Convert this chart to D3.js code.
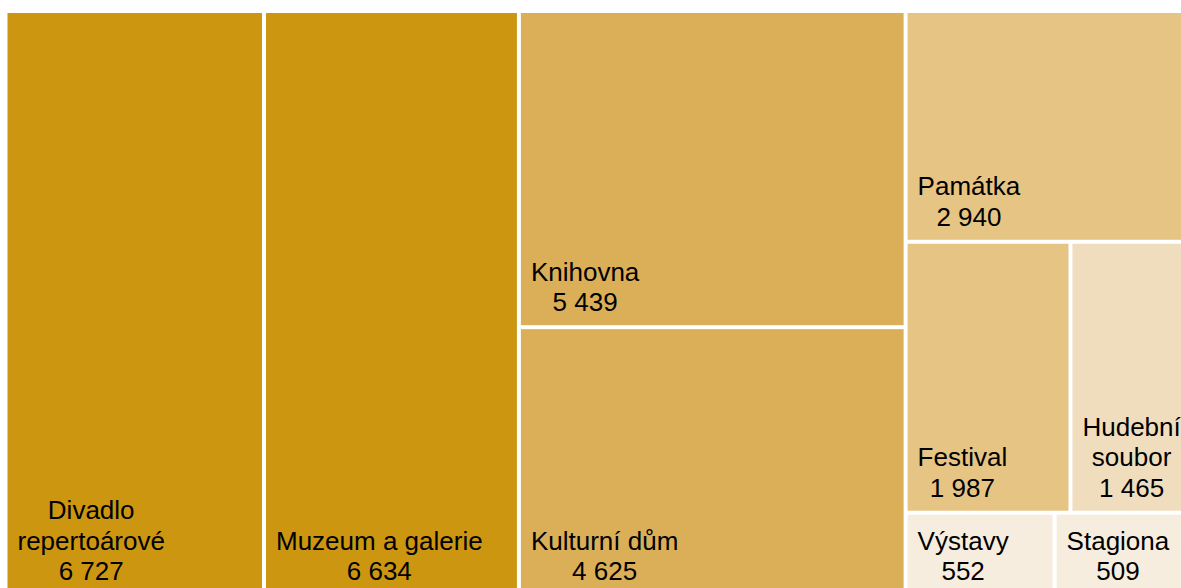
<!DOCTYPE html>
<html>
<head>
<meta charset="utf-8">
<script src="https://cdn.jsdelivr.net/npm/d3@7"></script>
<style>
  html, body { margin: 0; padding: 0; background: #fff; overflow: hidden; }
  svg { display: block; font-family: Arial, "Liberation Sans", sans-serif; }
</style>
</head>
<body>
<div id="chart"></div>
<script>
// data
var categories = ["Divadlo repertoárové", "Muzeum a galerie", "Knihovna", "Kulturní dům",
                  "Památka", "Festival", "Hudební soubor", "Výstavy", "Stagiona"];
var values = [6727, 6634, 5439, 4625, 2940, 1987, 1465, 552, 509];
// how the tiles are nested (indexes into categories)
var nesting = [0, 1, [2, 3], [4, [5, 6], [7, 8]]];
// colour bands by value
var colorSteps = [1000, 1900, 4000, 6000];
var colorRange = ["#f7eddf", "#f0ddbd", "#e6c484", "#dbaf57", "#cc9610"];

(function(){
    var width = 1181, height = 588;
    var x0 = 7.5, y0 = 13, x1 = 1190, y1 = 594;
    var fontSize = 26, lineGap = 30.5;

    var color = d3.scaleThreshold().domain(colorSteps).range(colorRange);
    var fmt = d3.formatLocale({decimal: ",", thousands: "\u00a0", grouping: [3], currency: ["", " Kč"]}).format(",d");

    function build(node){
        if (Array.isArray(node)){
            return {children: node.map(build)};
        }
        return {name: categories[node], value: values[node]};
    }

    var root = d3.hierarchy(build(nesting))
        .sum(function(d){ return d.value || 0; });

    d3.treemap()
        .tile(d3.treemapSliceDice)
        .size([x1 - x0, y1 - y0])
        .paddingInner(4)
        .round(false)(root);

    var svg = d3.select("#chart").append("svg")
        .attr("width", width)
        .attr("height", height);

    var plot = svg.append("g")
        .attr("transform", "translate(" + x0 + "," + y0 + ")");

    var leaves = plot.selectAll("g.tile")
        .data(root.leaves())
        .enter().append("g")
        .attr("class", "tile");

    leaves.append("rect")
        .attr("x", function(d){ return d.x0; })
        .attr("y", function(d){ return d.y0; })
        .attr("width", function(d){ return d.x1 - d.x0; })
        .attr("height", function(d){ return d.y1 - d.y0; })
        .attr("fill", function(d){ return color(d.data.value); });

    // labels: name (wrapped) + value, anchored bottom-left, lines centred on each other
    leaves.each(function(d){
        var g = d3.select(this);
        var maxW = d.x1 - d.x0 - 20;
        var words = d.data.name.split(" ");
        var lines = [], cur = "";
        var probe = g.append("text").attr("font-size", fontSize);
        words.forEach(function(w){
            var test = cur ? cur + " " + w : w;
            probe.text(test);
            if (cur && probe.node().getComputedTextLength() > maxW){
                lines.push(cur);
                cur = w;
            } else {
                cur = test;
            }
        });
        lines.push(cur);
        lines.push(fmt(d.data.value));
        var blockW = 0;
        lines.forEach(function(l){
            probe.text(l);
            blockW = Math.max(blockW, probe.node().getComputedTextLength());
        });
        probe.remove();

        var cx = d.x0 + 10 + blockW / 2;
        var lastY = d.y1 - 14;
        var text = g.append("text")
            .attr("font-size", fontSize)
            .attr("fill", "#000")
            .attr("text-anchor", "middle");
        lines.forEach(function(l, i){
            text.append("tspan")
                .attr("x", cx)
                .attr("y", lastY - (lines.length - 1 - i) * lineGap)
                .text(l);
        });
    });
})();
</script>
</body>
</html>
